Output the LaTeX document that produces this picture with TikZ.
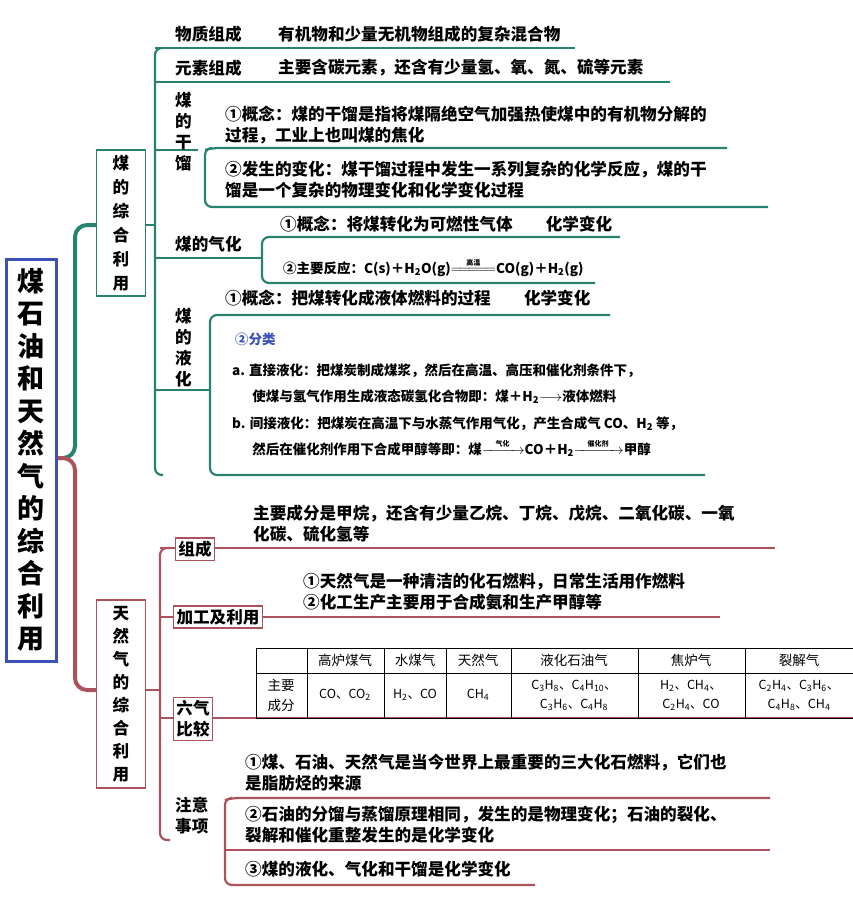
\documentclass[tikz,border=0pt]{standalone}
\usepackage{amsmath}
\usepackage{fontspec}
\setmainfont{Noto Sans CJK SC}
\definecolor{tl}{RGB}{40,130,112}
\definecolor{rs}{RGB}{172,82,92}
\definecolor{bl}{RGB}{60,80,185}
\begin{document}
\begin{tikzpicture}[x=1pt,y=-1pt,
 tx/.style={anchor=west,inner sep=0pt,font=\fontsize{16.6}{21}\selectfont\bfseries,align=left},
 sm/.style={anchor=west,inner sep=0pt,font=\fontsize{13.5}{17}\selectfont\bfseries,align=left},
 tline/.style={tl,line width=2.2pt,rounded corners=7pt},
 rline/.style={rs,line width=2.2pt,rounded corners=7pt},
 tbox/.style={draw=tl,line width=1.3pt,fill=white,align=center,inner sep=3pt,font=\fontsize{16.6}{21}\selectfont\bfseries},
 rbox/.style={draw=rs,line width=1.3pt,fill=white,align=center,inner sep=3pt,font=\fontsize{16.6}{21}\selectfont\bfseries},
 cell/.style={inner sep=0pt,align=center,font=\fontsize{12.5}{19}\selectfont}]
\useasboundingbox (0,0) rectangle (853,908);
% root connectors
\draw[tl,line width=4pt,rounded corners=12pt] (57,458) -- (75,458) -- (75,225) -- (97,225);
\draw[rs,line width=4pt,rounded corners=12pt] (57,458) -- (75,458) -- (75,690) -- (97,690);
\node[draw=bl,line width=3pt,fill=white,minimum width=50pt,minimum height=402pt,inner sep=0pt,align=center,font=\fontsize{27}{32.5}\selectfont\bfseries] (root) at (31,460) {煤\\石\\油\\和\\天\\然\\气\\的\\综\\合\\利\\用};
% top branch
\draw[tline] (146,225) -- (155,225);
\draw[tline] (163,48) -- (155,48) -- (155,475) -- (163,475);
\node[tbox,minimum width=49pt,minimum height=146pt,font=\fontsize{16.6}{24}\selectfont\bfseries] (coal) at (121,223) {煤\\的\\综\\合\\利\\用};
\draw[tline] (155,48) -- (575,48);
\node[tx] (t1) at (175,34) {物质组成};
\node[tx] at (278,34) {有机物和少量无机物组成的复杂混合物};
\draw[tline] (155,82) -- (670,82);
\node[tx] (t2) at (175,68) {元素组成};
\node[tx] at (278,68) {主要含碳元素，还含有少量氢、氧、氮、硫等元素};
% dry distillation
\draw[tline] (155,150) -- (198,150);
\node[tx,align=center] (gl) at (175,132) {煤\\的\\干\\馏};
\draw[tline] (727,148) -- (212,148) -- (205,150) ;
\draw[tline] (212,148) -- (205,148) -- (205,207) -- (768,207);
\node[tx] at (225,125) {①概念：煤的干馏是指将煤隔绝空气加强热使煤中的有机物分解的\\过程，工业上也叫煤的焦化};
\node[tx] at (225,180) {②发生的变化：煤干馏过程中发生一系列复杂的化学反应，煤的干\\馏是一个复杂的物理变化和化学变化过程};
% gasification
\draw[tline] (155,258) -- (262,258);
\node[tx] (qh) at (175,244) {煤的气化};
\draw[tline] (620,237) -- (262,237) -- (262,283) -- (595,283);
\node[tx] at (280,224) {①概念：将煤转化为可燃性气体\hspace{2em}化学变化};
\node[sm] at (283,267) {②主要反应：C(s)＋H\textsubscript{2}O(g)$\overset{\text{\scriptsize 高温}}{=\!=\!=\!=\!=}$CO(g)＋H\textsubscript{2}(g)};
% liquefaction
\draw[tline] (155,390) -- (210,390);
\node[tx,align=center] (yh) at (175,348) {煤\\的\\液\\化};
\draw[tline] (610,315) -- (210,315) -- (210,475) -- (705,475);
\node[tx] at (225,298) {①概念：把煤转化成液体燃料的过程\hspace{2em}化学变化};
\node[sm,text=bl] at (235,339) {②分类};
\node[sm,align=left,font=\fontsize{13.5}{26.5}\selectfont\bfseries] at (232,410) {a. 直接液化：把煤炭制成煤浆，然后在高温、高压和催化剂条件下，\\\hspace{1.5em}使煤与氢气作用生成液态碳氢化合物即：煤＋H\textsubscript{2}$\longrightarrow$液体燃料\\b. 间接液化：把煤炭在高温下与水蒸气作用气化，产生合成气 CO、H\textsubscript{2} 等，\\\hspace{1.5em}然后在催化剂作用下合成甲醇等即：煤$\xrightarrow{\hspace{0.8em}\text{\scriptsize 气化}\hspace{0.8em}}$CO＋H\textsubscript{2}$\xrightarrow{\hspace{0.8em}\text{\scriptsize 催化剂}\hspace{0.8em}}$甲醇};
% bottom branch
\draw[rline] (146,690) -- (160,690);
\draw[rline] (170,548) -- (160,548) -- (160,840) -- (170,840);
\node[rbox,minimum width=49pt,minimum height=188pt,font=\fontsize{16.6}{23}\selectfont\bfseries] (gas) at (121,694) {天\\然\\气\\的\\综\\合\\利\\用};
\draw[rline] (160,548) -- (775,548);
\node[rbox] (zc) at (195,549) {组成};
\node[tx] at (253,524) {主要成分是甲烷，还含有少量乙烷、丁烷、戊烷、二氧化碳、一氧\\化碳、硫化氢等};
\draw[rline] (160,617) -- (720,617);
\node[rbox] (jg) at (218,617) {加工及利用};
\node[tx] at (303,592) {①天然气是一种清洁的化石燃料，日常生活用作燃料\\②化工生产主要用于合成氨和生产甲醇等};
\draw[rline] (160,718) -- (853,718);
\node[rbox] (lq) at (193,719) {六气\\比较};
% table
\draw[line width=0.7pt] (256,648) rectangle (853,718);
\draw[line width=0.6pt] (256,673) -- (853,673);
\foreach \x in {307,384,446,511,638,745} \draw[line width=0.6pt] (\x,648) -- (\x,718);
\foreach \x/\t in {345/高炉煤气,415/水煤气,478/天然气,574/液化石油气,691/焦炉气,799/裂解气}
  \node[cell,font=\fontsize{13.5}{16}\selectfont] at (\x,660) {\t};
\node[cell,font=\fontsize{13.5}{20}\selectfont] at (281,695) {主要\\成分};
\node[cell] at (345,695) {CO、CO\textsubscript{2}};
\node[cell] at (415,695) {H\textsubscript{2}、CO};
\node[cell] at (478,695) {CH\textsubscript{4}};
\node[cell] at (574,695) {C\textsubscript{3}H\textsubscript{8}、C\textsubscript{4}H\textsubscript{10}、\\C\textsubscript{3}H\textsubscript{6}、C\textsubscript{4}H\textsubscript{8}};
\node[cell] at (691,695) {H\textsubscript{2}、CH\textsubscript{4}、\\C\textsubscript{2}H\textsubscript{4}、CO};
\node[cell] at (799,695) {C\textsubscript{2}H\textsubscript{4}、C\textsubscript{3}H\textsubscript{6}、\\C\textsubscript{4}H\textsubscript{8}、CH\textsubscript{4}};
% notes
\node[tx,align=center] (zy) at (175,816) {注意\\事项};
\draw[rline] (770,798) -- (232,798) -- (225,800) ;
\draw[rline] (232,798) -- (225,798) -- (225,885) -- (535,885);
\draw[rline] (225,850) -- (770,850);
\node[tx] at (245,773) {①煤、石油、天然气是当今世界上最重要的三大化石燃料，它们也\\是脂肪烃的来源};
\node[tx] at (245,825) {②石油的分馏与蒸馏原理相同，发生的是物理变化；石油的裂化、\\裂解和催化重整发生的是化学变化};
\node[tx] at (245,869) {③煤的液化、气化和干馏是化学变化};
\end{tikzpicture}
\end{document}
